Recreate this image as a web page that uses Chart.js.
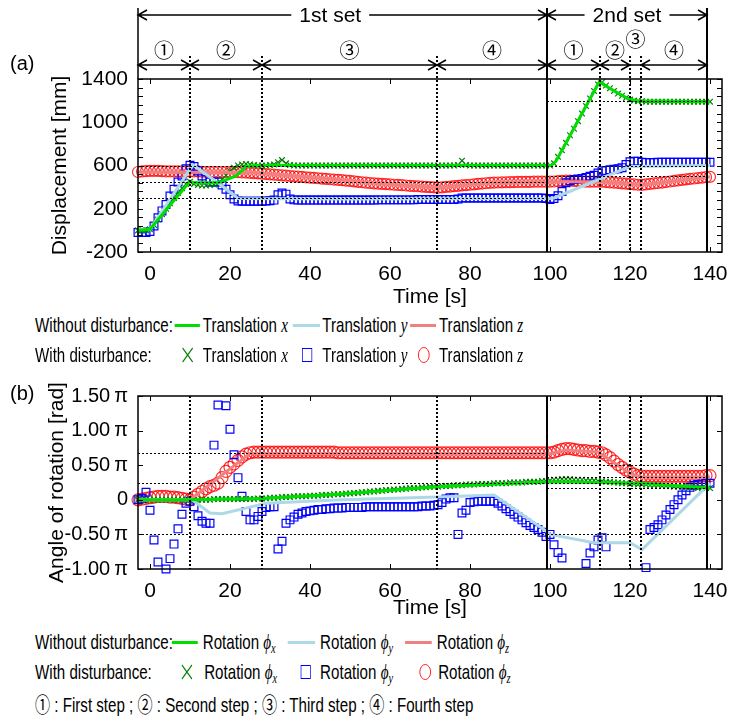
<!DOCTYPE html>
<html>
<head>
<meta charset="utf-8">
<script src="https://cdn.jsdelivr.net/npm/chart.js@4.4.1/dist/chart.umd.min.js"></script>
<style>
  body { margin: 0; background: #fff; }
  #page { position: relative; width: 748px; height: 719px; overflow: hidden; background: #fff;
          font-family: "Liberation Sans", Arial, sans-serif; color: #000; }
  canvas { position: absolute; left: 0; }
  .tag { position: absolute; left: 10px; font-size: 20px; line-height: 26px; }
  .leg { position: absolute; left: 35px; width: 900px; height: 26px; transform: scaleX(0.72);
         transform-origin: 0 0; font-size: 21px; line-height: 26px; white-space: nowrap; }
  .leg > * { position: absolute; top: 0; }
  .leg .ln { top: 12px; height: 3px; }
  .leg .sq { top: 6px; width: 14px; height: 14px; border: 1.5px solid #0000ff; box-sizing: border-box; }
  .leg .ci { top: 5px; width: 16px; height: 16px; border: 1.5px solid #ff0000; border-radius: 50%; box-sizing: border-box; }
  .leg .xm { top: 5px; }
  .m { font-family: "Liberation Serif", "DejaVu Serif", serif; font-style: italic; }
  .m sub { font-size: 68%; vertical-align: -4px; }
  .cd { font-family: "Noto Sans CJK JP", "DejaVu Sans", sans-serif; }
</style>
</head>
<body>
<div id="page">
  <canvas id="chartA" width="748" height="310" style="top:0"></canvas>
  <canvas id="chartB" width="748" height="255" style="top:366px"></canvas>
  <div class="tag" style="top:50px">(a)</div>
  <div class="tag" style="top:380px">(b)</div>

  <div class="leg" style="top:312px">
    <span style="left:0">Without disturbance:</span>
    <i class="ln" style="left:194px;width:35px;background:#00dd00"></i>
    <span style="left:233px">Translation <span class="m">x</span></span>
    <i class="ln" style="left:358px;width:38px;background:#add8e6"></i>
    <span style="left:399px">Translation <span class="m">y</span></span>
    <i class="ln" style="left:521px;width:36px;background:#f08080"></i>
    <span style="left:561px">Translation <span class="m">z</span></span>
  </div>
  <div class="leg" style="top:342px">
    <span style="left:0">With disturbance:</span>
    <svg class="xm" style="left:204px" width="16" height="16"><path d="M1 1L15 15M15 1L1 15" stroke="#008000" stroke-width="1.5"/></svg>
    <span style="left:233px">Translation <span class="m">x</span></span>
    <b class="sq" style="left:371px"></b>
    <span style="left:399px">Translation <span class="m">y</span></span>
    <b class="ci" style="left:532px"></b>
    <span style="left:561px">Translation <span class="m">z</span></span>
  </div>

  <div class="leg" style="top:629px">
    <span style="left:0">Without disturbance:</span>
    <i class="ln" style="left:190px;width:36px;background:#00dd00"></i>
    <span style="left:233px">Rotation <span class="m">ϕ<sub>x</sub></span></span>
    <i class="ln" style="left:351px;width:38px;background:#add8e6"></i>
    <span style="left:396px">Rotation <span class="m">ϕ<sub>y</sub></span></span>
    <i class="ln" style="left:514px;width:37px;background:#f08080"></i>
    <span style="left:558px">Rotation <span class="m">ϕ<sub>z</sub></span></span>
  </div>
  <div class="leg" style="top:659px">
    <span style="left:0">With disturbance:</span>
    <svg class="xm" style="left:203px" width="16" height="16"><path d="M1 1L15 15M15 1L1 15" stroke="#008000" stroke-width="1.5"/></svg>
    <span style="left:235px">Rotation <span class="m">ϕ<sub>x</sub></span></span>
    <b class="sq" style="left:369px"></b>
    <span style="left:396px">Rotation <span class="m">ϕ<sub>y</sub></span></span>
    <b class="ci" style="left:534px"></b>
    <span style="left:560px">Rotation <span class="m">ϕ<sub>z</sub></span></span>
  </div>
  <div class="leg" style="top:690px">
    <span style="left:0"><span class="cd">①</span> : First step ; <span class="cd">②</span> : Second step ; <span class="cd">③</span> : Third step ; <span class="cd">④</span> : Fourth step</span>
  </div>
</div>

<script>
const FONT = '"Liberation Sans", Arial, sans-serif';

// time axis [s]
const timeTicks = [0, 20, 40, 60, 80, 100, 120, 140];
const tMin = -3;
const tMax = 143;

// step / set boundaries [s]
const stepEnds = [10, 28, 71.75, 99.25, 112.5, 120, 122.75, 139.25];
const setEnds = [99.25, 139.25];
const stepNames = ["①", "②", "③", "④", "①", "②", "③", "④"];
const setNames = ["1st set", "2nd set"];

// sample times of the disturbed runs [s]
const timeS = [-3,-2,-1,0,1,2,3,4,5,6,7,8,9,10,11,12,13,14,15,16,17,18,19,20,21,22,23,24,25,26,
  27,28,29,30,31,32,33,34,35,36,37,38,39,40,41,42,43,44,45,46,47,48,49,50,51,52,53,54,55,56,
  57,58,59,60,61,62,63,64,65,66,67,68,69,70,71,72,73,74,75,76,77,78,79,80,81,82,83,84,85,86,
  87,88,89,90,91,92,93,94,95,96,97,98,99,100,101,102,103,104,105,106,107,108,109,110,111,112,113,114,115,116,
  117,118,119,120,121,122,123,124,125,126,127,128,129,130,131,132,133,134,135,136,137,138,139,140];

// (a) displacement [mm]
const dispTicks = [-200, 200, 600, 1000, 1400];
const dispXLineT = [-3, 0, 10, 11, 17, 21.5, 24, 26, 100.3, 101.5, 112.4, 113.5, 119.8, 122, 140];
const dispXLineV = [0, 10, 455, 440, 440, 503, 589, 600, 600, 640, 1380, 1345, 1212, 1200, 1190];
const dispYLineT = [-3, 0, 10.7, 17, 22, 50, 100, 101, 120, 140];
const dispYLineV = [10, 10, 605, 440, 295, 290, 295, 300, 590, 600];
const dispZLineT = [-3, 25, 48, 56, 72, 85, 100, 113, 123, 140];
const dispZLineV = [540, 535, 465, 435, 395, 440, 450, 450, 420, 495];

const dispXDist = [
  0, 0, 0, 10, 50, 100, 150, 200, 250, 300,
  345, 390, 430, 450, 430, 420, 415, 415, 420, 425,
  435, 470, 510, 550, 580, 600, 610, 615, 610, 605,
  600, 600, 600, 605, 610, 630, 650, 620, 605, 600,
  600, 600, 600, 600, 600, 600, 600, 600, 600, 600,
  600, 600, 600, 600, 600, 600, 600, 600, 600, 600,
  600, 600, 600, 600, 600, 600, 600, 600, 600, 600,
  600, 600, 600, 600, 600, 600, 600, 600, 600, 600,
  605, 645, 605, 600, 600, 600, 600, 600, 600, 600,
  600, 600, 600, 600, 600, 600, 600, 600, 600, 600,
  600, 600, 600, 600, 620, 680, 740, 810, 880, 940,
  1010, 1080, 1150, 1220, 1290, 1350, 1370, 1340, 1315, 1290,
  1265, 1245, 1225, 1210, 1200, 1195, 1195, 1190, 1190, 1190,
  1190, 1190, 1190, 1190, 1190, 1190, 1190, 1190, 1190, 1190,
  1190, 1190, 1190, 1190];
const dispYDist = [
  -20, -20, -20, -10, 40, 117, 180, 240, 318, 380,
  448, 503, 570, 602, 590, 550, 503, 470, 448, 448,
  448, 420, 380, 330, 290, 272, 270, 270, 270, 270,
  270, 270, 272, 275, 280, 330, 345, 335, 290, 282,
  280, 280, 280, 280, 280, 280, 280, 280, 280, 280,
  280, 280, 280, 280, 280, 280, 280, 280, 280, 280,
  282, 282, 282, 282, 282, 282, 282, 282, 282, 282,
  285, 285, 285, 285, 285, 285, 285, 285, 285, 285,
  290, 300, 300, 300, 300, 300, 300, 300, 300, 300,
  300, 300, 300, 300, 300, 300, 300, 300, 300, 300,
  300, 300, 295, 285, 295, 320, 360, 440, 460, 470,
  475, 480, 490, 500, 510, 530, 550, 555, 560, 565,
  570, 580, 610, 635, 640, 640, 630, 628, 628, 628,
  630, 630, 630, 630, 630, 630, 630, 630, 630, 630,
  630, 630, 630, 630];
const dispZDist = [
  540, 545, 548, 550, 550, 550, 548, 545, 545, 545,
  545, 545, 545, 545, 545, 545, 542, 540, 540, 540,
  540, 540, 540, 540, 540, 538, 536, 535, 532, 530,
  527, 524, 521, 518, 515, 512, 509, 506, 503, 500,
  497, 494, 491, 488, 485, 482, 479, 476, 473, 470,
  467, 464, 460, 457, 453, 449, 445, 441, 438, 435,
  432, 430, 428, 425, 422, 420, 418, 415, 412, 410,
  408, 405, 402, 400, 398, 395, 398, 402, 405, 409,
  412, 416, 419, 422, 426, 430, 433, 436, 440, 442,
  443, 444, 445, 446, 447, 448, 448, 449, 449, 450,
  450, 450, 450, 450, 452, 455, 458, 460, 460, 458,
  455, 452, 450, 450, 450, 450, 450, 447, 444, 441,
  438, 435, 432, 428, 425, 422, 420, 425, 430, 434,
  438, 442, 447, 452, 457, 462, 467, 472, 476, 480,
  484, 488, 492, 495];
// targets [mm]: 1st set, 2nd set
const dispTargets1 = [600, 450, 300];
const dispTargets2 = [1200, 600, 500];

// (b) rotation [x pi rad]
const rotTicks = [-1, -0.5, 0, 0.5, 1, 1.5];
const rotXLineT = [-3, 10, 28, 47, 72, 100, 123, 140];
const rotXLineV = [0, 0, 0.02, 0.08, 0.19, 0.26, 0.24, 0.17];
const rotYLineT = [-3, 10.5, 15, 18, 24, 29, 48, 72, 86, 99, 100, 111, 120, 123, 140];
const rotYLineV = [0, 0, -0.19, -0.2, -0.12, -0.05, 0, 0.04, 0.07, -0.45, -0.5, -0.62, -0.62, -0.72, 0.24];
const rotZLineT = [-3, 10, 25, 100, 104, 112, 120, 123, 140];
const rotZLineV = [0, 0, 0.67, 0.67, 0.72, 0.69, 0.38, 0.33, 0.33];

const rotXDist = [
  0, 0, 0, 0, 0, 0, 0, 0, 0, 0,
  0, 0, 0, 0, 0, 0, 0, 0, 0, 0.01,
  0.01, 0.01, 0.01, 0.01, 0.01, 0.01, 0.01, 0.01, 0.01, 0.01,
  0.02, 0.02, 0.02, 0.03, 0.03, 0.03, 0.04, 0.04, 0.04, 0.05,
  0.05, 0.05, 0.05, 0.06, 0.06, 0.06, 0.07, 0.07, 0.07, 0.08,
  0.08, 0.08, 0.09, 0.09, 0.10, 0.10, 0.11, 0.11, 0.12, 0.12,
  0.13, 0.13, 0.14, 0.14, 0.15, 0.15, 0.16, 0.16, 0.17, 0.17,
  0.17, 0.18, 0.18, 0.19, 0.19, 0.19, 0.20, 0.20, 0.20, 0.21,
  0.21, 0.21, 0.22, 0.22, 0.22, 0.23, 0.23, 0.23, 0.23, 0.24,
  0.24, 0.24, 0.24, 0.25, 0.25, 0.25, 0.25, 0.26, 0.26, 0.26,
  0.26, 0.27, 0.27, 0.28, 0.29, 0.29, 0.30, 0.30, 0.30, 0.29,
  0.29, 0.29, 0.28, 0.28, 0.28, 0.27, 0.27, 0.26, 0.26, 0.25,
  0.25, 0.24, 0.24, 0.23, 0.23, 0.22, 0.22, 0.22, 0.21, 0.21,
  0.21, 0.20, 0.20, 0.20, 0.19, 0.19, 0.19, 0.18, 0.18, 0.18,
  0.17, 0.17, 0.17, 0.17];
const rotYDist = [
  0, 0.02, 0.11, -0.15, -0.58, -0.9, null, -1.0, -0.85, -0.64,
  -0.42, -0.21, -0.05, -0.02, -0.1, -0.23, -0.31, -0.34, -0.34, 0.79,
  1.37, null, 1.36, 1.02, 0.65, 0.32, 0.05, -0.17, -0.29, -0.29,
  -0.24, -0.17, -0.11, -0.1, -0.1, -0.71, -0.6, -0.34, -0.29, -0.25,
  -0.21, -0.19, -0.17, -0.16, -0.15, -0.14, -0.14, -0.13, -0.13, -0.12,
  -0.12, -0.12, -0.11, -0.11, -0.11, -0.11, -0.11, -0.1, -0.1, -0.1,
  -0.1, -0.1, -0.1, -0.1, -0.1, -0.1, -0.1, -0.1, -0.1, -0.1,
  -0.1, -0.09, -0.09, -0.09, -0.08, -0.07, -0.04, 0.01, 0.03, 0.03,
  -0.5, -0.19, -0.15, -0.04, -0.03, -0.02, -0.02, -0.02, -0.02, -0.02,
  -0.05, -0.09, -0.13, -0.17, -0.21, -0.25, -0.29, -0.33, -0.37, -0.4,
  -0.43, -0.47, -0.53, -0.5, -0.65, -0.76, -0.84, null, null, null,
  null, null, -0.92, -0.77, -0.68, -0.58, -0.55, -0.68, null, null,
  null, null, null, null, null, null, null, -0.98, -0.43, -0.4,
  -0.36, -0.29, -0.22, -0.14, -0.07, 0, 0.07, 0.13, 0.18, 0.21,
  0.22, 0.23, 0.24, 0.24];
const rotZDist = [
  0, 0.01, 0.02, 0.03, 0.04, 0.05, 0.05, 0.05, 0.04, 0.04,
  0.03, 0.02, 0.01, 0, 0.04, 0.08, 0.12, 0.16, 0.19, 0.21,
  0.24, 0.32, 0.41, 0.47, 0.52, 0.57, 0.62, 0.66, 0.68, 0.69,
  0.69, 0.69, 0.69, 0.69, 0.69, 0.69, 0.69, 0.69, 0.69, 0.69,
  0.69, 0.69, 0.69, 0.69, 0.69, 0.69, 0.69, 0.69, 0.69, 0.69,
  0.68, 0.68, 0.68, 0.68, 0.68, 0.68, 0.68, 0.68, 0.68, 0.68,
  0.68, 0.68, 0.68, 0.68, 0.68, 0.68, 0.68, 0.68, 0.68, 0.68,
  0.68, 0.68, 0.68, 0.68, 0.68, 0.68, 0.68, 0.68, 0.68, 0.68,
  0.68, 0.68, 0.68, 0.68, 0.68, 0.68, 0.68, 0.68, 0.68, 0.68,
  0.68, 0.68, 0.68, 0.68, 0.68, 0.68, 0.68, 0.68, 0.68, 0.68,
  0.68, 0.68, 0.68, 0.68, 0.69, 0.71, 0.73, 0.74, 0.74, 0.73,
  0.72, 0.71, 0.71, 0.70, 0.70, 0.69, 0.68, 0.65, 0.61, 0.56,
  0.51, 0.47, 0.43, 0.40, 0.37, 0.35, 0.34, 0.34, 0.34, 0.34,
  0.34, 0.34, 0.34, 0.34, 0.34, 0.34, 0.34, 0.34, 0.34, 0.34,
  0.34, 0.34, 0.35, 0.35];
const rotTargets1 = [0.676, 0.25, -0.5];
const rotTargets2 = [0.5, 0.33, 0.25, 0.17, -0.5];

Chart.defaults.font.family = FONT;
Chart.defaults.color = "#000";

function pairs(ts, vs) {
  return ts.map((t, i) => ({ x: t, y: vs[i] }));
}

function lineSet(ts, vs, color) {
  return { data: pairs(ts, vs), showLine: true, borderColor: color, borderWidth: 3,
           pointRadius: 0, tension: 0, fill: false };
}

function markSet(vs, style, color, r) {
  return { data: pairs(timeS, vs), showLine: false, pointStyle: style, pointRadius: r,
           pointBorderColor: color, pointBackgroundColor: "rgba(0,0,0,0)",
           pointBorderWidth: 1.2, clip: false };
}

function arrow(ctx, x0, x1, y) {
  ctx.beginPath();
  ctx.moveTo(x0, y);
  ctx.lineTo(x1, y);
  if (x1 - x0 > 24) {
    ctx.moveTo(x0 + 9, y - 5); ctx.lineTo(x0, y); ctx.lineTo(x0 + 9, y + 5);
    ctx.moveTo(x1 - 9, y - 5); ctx.lineTo(x1, y); ctx.lineTo(x1 - 9, y + 5);
  }
  ctx.stroke();
}

function drawHeader(chart) {
  const { ctx, chartArea: a, scales: { x } } = chart;
  const xs = (t) => Math.round(x.getPixelForValue(t));
  ctx.save();
  ctx.strokeStyle = "#000";
  ctx.fillStyle = "#000";
  ctx.lineWidth = 1.5;
  ctx.setLineDash([]);
  ctx.beginPath();
  ctx.moveTo(a.left, 8);
  ctx.lineTo(a.left, a.top);
  ctx.stroke();

  ctx.textAlign = "center";
  ctx.textBaseline = "middle";
  ctx.font = "21px " + FONT;
  setEnds.forEach((t, i) => {
    const x0 = i === 0 ? a.left : xs(setEnds[i - 1]);
    const x1 = xs(t);
    arrow(ctx, x0, x1, 15);
    const mid = i === 0 ? x0 + (x1 - x0) * 0.47 : (x0 + x1) / 2;
    const w = ctx.measureText(setNames[i]).width + 16;
    ctx.fillStyle = "#fff";
    ctx.fillRect(mid - w / 2, 4, w, 22);
    ctx.fillStyle = "#000";
    ctx.fillText(setNames[i], mid, 16);
  });

  ctx.font = '20px "Noto Sans CJK JP"';
  stepEnds.forEach((t, i) => {
    const x0 = i === 0 ? a.left : xs(stepEnds[i - 1]);
    const x1 = xs(t);
    arrow(ctx, x0, x1, 65);
    ctx.fillText(stepNames[i], (x0 + x1) / 2, x1 - x0 < 24 ? 39 : 50);
  });
  ctx.restore();
}

function guides(opt) {
  return {
    id: "guides",
    afterDatasetsDraw(chart) {
      const { ctx, chartArea: a, scales: { x, y } } = chart;
      const xs = (t) => Math.round(x.getPixelForValue(t));
      ctx.save();
      ctx.strokeStyle = "#000";

      // target levels
      ctx.lineWidth = 1;
      ctx.setLineDash([2, 2]);
      opt.targets.forEach(([t0, t1, vals]) => {
        vals.forEach((v) => {
          const py = Math.round(y.getPixelForValue(v)) + 0.5;
          ctx.beginPath();
          ctx.moveTo(xs(t0), py);
          ctx.lineTo(xs(t1), py);
          ctx.stroke();
        });
      });

      // step boundaries
      ctx.lineWidth = 2;
      stepEnds.filter((t) => !setEnds.includes(t)).forEach((t) => {
        ctx.beginPath();
        ctx.moveTo(xs(t), opt.stepTop ?? a.top);
        ctx.lineTo(xs(t), a.bottom);
        ctx.stroke();
      });
      ctx.setLineDash([]);
      setEnds.forEach((t) => {
        ctx.beginPath();
        ctx.moveTo(xs(t), opt.setTop ?? a.top);
        ctx.lineTo(xs(t), a.bottom);
        ctx.stroke();
      });

      // frame and inward ticks
      ctx.lineWidth = 1.5;
      ctx.strokeRect(a.left, a.top, a.right - a.left, a.bottom - a.top);
      ctx.lineWidth = 1;
      ctx.beginPath();
      timeTicks.forEach((t) => {
        const px = xs(t) + 0.5;
        ctx.moveTo(px, a.top); ctx.lineTo(px, a.top + 5);
        ctx.moveTo(px, a.bottom); ctx.lineTo(px, a.bottom - 5);
      });
      for (let v = y.min; v <= y.max + 1e-9; v += opt.yStep) {
        const py = Math.round(y.getPixelForValue(v)) + 0.5;
        ctx.moveTo(a.left, py); ctx.lineTo(a.left + 5, py);
        ctx.moveTo(a.right, py); ctx.lineTo(a.right - 5, py);
      }
      ctx.stroke();
      ctx.restore();
    },
    afterDraw(chart) {
      if (opt.header) drawHeader(chart);
    }
  };
}

function makeChart(id, cfg) {
  return new Chart(document.getElementById(id), {
    type: "scatter",
    data: { datasets: cfg.datasets },
    options: {
      animation: false,
      responsive: false,
      devicePixelRatio: 1,
      layout: { padding: cfg.padding },
      plugins: { legend: { display: false }, tooltip: { enabled: false } },
      scales: {
        x: {
          type: "linear", min: tMin, max: tMax,
          grid: { display: false, drawTicks: false },
          border: { display: false },
          afterBuildTicks: (s) => { s.ticks = timeTicks.map((v) => ({ value: v })); },
          afterFit: (s) => { s.height = cfg.xHeight; },
          ticks: { font: { size: 21 }, color: "#000", padding: 10, maxRotation: 0, autoSkip: false },
          title: { display: true, text: "Time [s]", font: { size: 21 }, color: "#000", padding: 0 }
        },
        y: {
          type: "linear", min: cfg.yMin, max: cfg.yMax,
          grid: { display: false, drawTicks: false },
          border: { display: false },
          afterBuildTicks: (s) => { s.ticks = cfg.yTicks.map((v) => ({ value: v })); },
          afterFit: (s) => { s.width = 138; },
          ticks: { font: { size: cfg.yFont }, color: "#000", padding: 10, callback: cfg.yLabel },
          title: { display: true, text: cfg.yTitle, font: { size: 21 }, color: "#000",
                   padding: { top: cfg.yTitlePad, bottom: 0 } }
        }
      }
    },
    plugins: [guides(cfg.guides)]
  });
}

makeChart("chartA", {
  padding: { top: 79, right: 26, left: 0, bottom: 0 },
  xHeight: 58,
  yMin: -200, yMax: 1400, yTicks: dispTicks, yFont: 21, yTitlePad: 48,
  yLabel: (v) => String(v),
  yTitle: "Displacement [mm]",
  guides: {
    header: true, stepTop: 56, setTop: 8, yStep: 80,
    targets: [[tMin, setEnds[0], dispTargets1], [setEnds[0], setEnds[1], dispTargets2]]
  },
  datasets: [
    lineSet(dispXLineT, dispXLineV, "#00dd00"),
    lineSet(dispYLineT, dispYLineV, "#add8e6"),
    lineSet(dispZLineT, dispZLineV, "#f08080"),
    markSet(dispXDist, "crossRot", "#008000", 4),
    markSet(dispYDist, "rect", "#0000ff", 5.5),
    markSet(dispZDist, "circle", "rgba(255,0,0,0.8)", 5.5)
  ]
});

makeChart("chartB", {
  padding: { top: 30, right: 26, left: 0, bottom: 0 },
  xHeight: 52,
  yMin: -1, yMax: 1.5, yTicks: rotTicks, yFont: 20, yTitlePad: 45,
  yLabel: (v) => (v === 0 ? "0" : v.toFixed(2) + "\u2009π"),
  yTitle: "Angle of rotation [rad]",
  guides: {
    header: false, yStep: 0.5,
    targets: [[tMin, setEnds[0], rotTargets1], [setEnds[0], setEnds[1], rotTargets2]]
  },
  datasets: [
    lineSet(rotXLineT, rotXLineV, "#00dd00"),
    lineSet(rotYLineT, rotYLineV, "#add8e6"),
    lineSet(rotZLineT, rotZLineV, "#f08080"),
    markSet(rotXDist, "crossRot", "#008000", 4),
    markSet(rotYDist, "rect", "#0000ff", 5.5),
    markSet(rotZDist, "circle", "rgba(255,0,0,0.8)", 6)
  ]
});
</script>
</body>
</html>
